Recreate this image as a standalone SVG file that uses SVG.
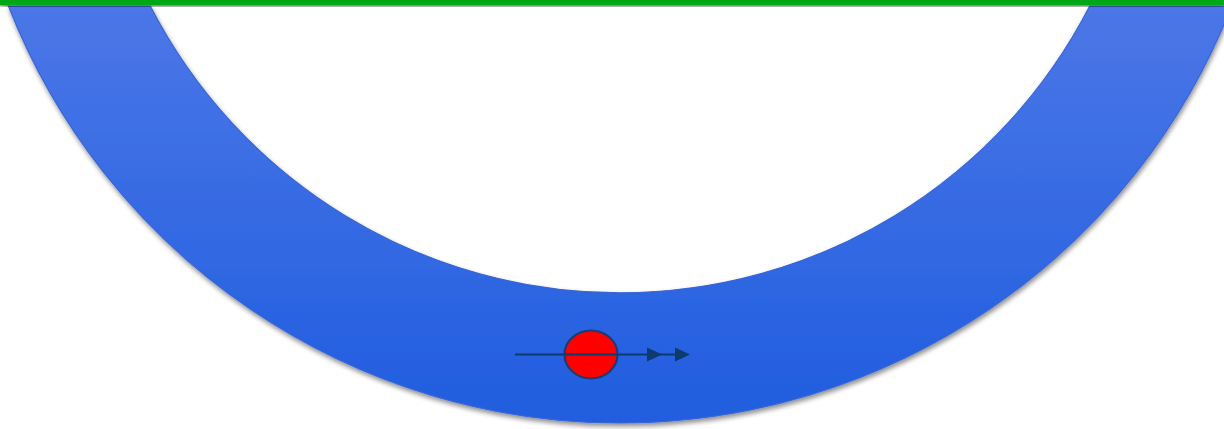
<svg xmlns="http://www.w3.org/2000/svg" width="1224" height="429" viewBox="0 0 1224 429">
<defs>
<linearGradient id="ringGrad" x1="0" y1="0" x2="0" y2="429" gradientUnits="userSpaceOnUse">
<stop offset="0" stop-color="#4c77e7"/>
<stop offset="1" stop-color="#1f5ddf"/>
</linearGradient>
<filter id="shadow" x="-5%" y="-10%" width="110%" height="125%">
<feGaussianBlur in="SourceAlpha" stdDeviation="2.5"/>
<feOffset dx="1" dy="3" result="b"/>
<feComponentTransfer><feFuncA type="linear" slope="0.45"/></feComponentTransfer>
<feMerge><feMergeNode/><feMergeNode in="SourceGraphic"/></feMerge>
</filter>
<style>
.ring{fill:url(#ringGrad);stroke:#3a66d4;stroke-width:1.2}
.ball{fill:#ff0000;stroke:#1b3c74;stroke-width:2.2}
.path{stroke:#0e3a6c;stroke-width:2}
.head{fill:#0e3a6c}
</style>
</defs>
<rect width="1224" height="429" fill="#ffffff"/>
<g id="ring" filter="url(#shadow)">
<path class="ring" d="M 8.4 6 A 657 657 0 0 0 1231.6 6 L 1089.7 6 A 528 528 0 0 1 150.3 6 Z"/>
</g>
<g id="topbar" filter="url(#shadow)">
<rect x="0" y="0" width="1224" height="5.5" fill="#00a814"/>
</g>
<g id="ball">
<ellipse class="ball" cx="591" cy="354.5" rx="26.5" ry="24"/>
</g>
<g id="connectors">
<line class="path" x1="515" y1="354.5" x2="680" y2="354.5"/>
<polygon class="head" points="647,347.5 662,354.5 647,361.5"/>
<polygon class="head" points="675,347.5 690,354.5 675,361.5"/>
</g>
</svg>
